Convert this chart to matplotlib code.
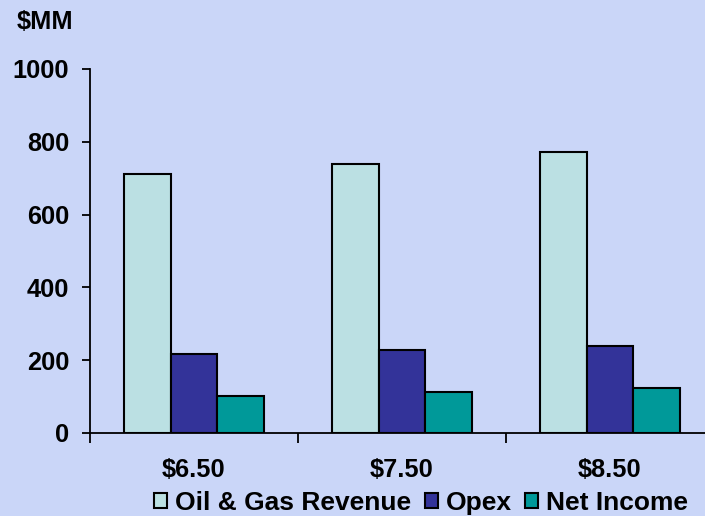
import matplotlib
matplotlib.use("Agg")
import matplotlib.pyplot as plt
import numpy as np

categories = ["$6.50", "$7.50", "$8.50"]
revenue = [712, 739, 771]
opex = [218, 228, 239]
net_income = [102, 114, 125]
series_names = ["Oil & Gas Revenue", "Opex", "Net Income"]
y_ticks = [0, 200, 400, 600, 800, 1000]

bg = "#CAD6F8"
colors = ["#BBE0E3", "#333399", "#009999"]

plt.rcParams['font.family'] = ['Liberation Sans', 'DejaVu Sans']
plt.rcParams['font.weight'] = 'bold'

fs = 18.3
fig = plt.figure(figsize=(7.05, 5.16), dpi=100, facecolor=bg)
ax = fig.add_axes([90/705, 83/516, 624/705, 364/516])
ax.set_facecolor(bg)

x = np.arange(len(categories))
w = 0.223
for i, (vals, name) in enumerate(zip([revenue, opex, net_income], series_names)):
    ax.bar(x + (i - 1) * w, vals, width=w, color=colors[i], edgecolor="black",
           linewidth=1.5, label=name, zorder=3)

ax.set_xlim(-0.5, 2.5)
ax.set_ylim(0, 1000)
ax.set_yticks(y_ticks)
ax.set_yticklabels([str(v) for v in y_ticks], fontsize=fs, fontweight='bold')
ax.set_xticks([-0.5, 0.5, 1.5, 2.5])
ax.set_xticklabels([])
ax.set_xticks(x, minor=True)
ax.set_xticklabels(categories, minor=True, fontsize=fs, fontweight='bold')
ax.tick_params(axis='x', which='minor', length=0, pad=18)
ax.tick_params(axis='x', which='major', length=7, width=1.3, direction='out')
ax.tick_params(axis='y', length=6, width=1.3, direction='out', pad=9)
for s in ['top', 'right']:
    ax.spines[s].set_visible(False)
for s in ['left', 'bottom']:
    ax.spines[s].set_linewidth(1.3)

fig.text(17/705, 1 - 22/516, "$MM", fontsize=fs, fontweight='bold', va='center', ha='left')

leg = fig.legend(loc='center', bbox_to_anchor=(421/705, 1 - 503/516), ncol=3,
                 frameon=False, fontsize=19, handlelength=0.5, handleheight=0.5,
                 handletextpad=0.3, columnspacing=0.5, borderpad=0)
for t in leg.get_texts():
    t.set_fontweight('bold')

fig.savefig("out.png", dpi=100, facecolor=bg)
